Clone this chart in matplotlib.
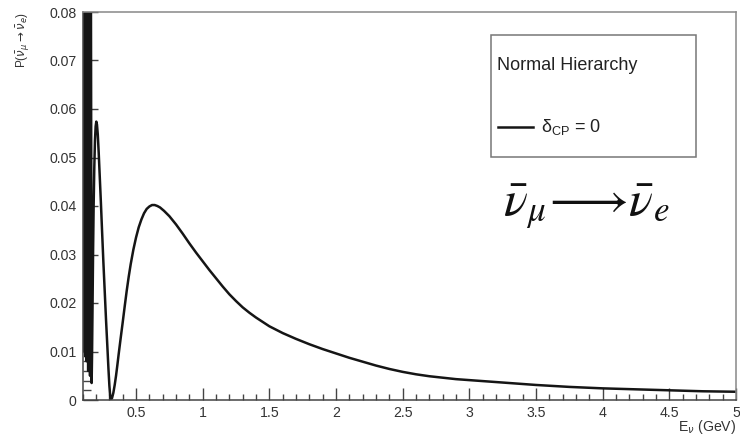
import matplotlib
matplotlib.use('Agg')
import matplotlib.pyplot as plt
from matplotlib.ticker import MultipleLocator, FuncFormatter
from matplotlib.patches import Rectangle
from matplotlib.lines import Line2D

plt.rcParams['font.family'] = ['Liberation Sans', 'DejaVu Sans']

# neutrino energy (GeV) and appearance probability
energy_gev = [0.100, 0.1035, 0.107, 0.111, 0.115, 0.119, 0.124, 0.129,
              0.135, 0.141, 0.148, 0.155, 0.161, 0.167,
              0.170, 0.174, 0.178, 0.182, 0.187, 0.192, 0.197, 0.202,
              0.207, 0.213, 0.220, 0.228, 0.236, 0.245, 0.255, 0.265,
              0.275, 0.285, 0.293, 0.300, 0.305, 0.31,
              0.32, 0.33, 0.34, 0.35, 0.36, 0.37, 0.385, 0.40, 0.415,
              0.43, 0.445, 0.46, 0.48, 0.50, 0.52, 0.54, 0.56, 0.58,
              0.60, 0.62, 0.64, 0.66, 0.68, 0.71, 0.75, 0.80, 0.85,
              0.90, 0.95, 1.00, 1.05, 1.10, 1.15, 1.20, 1.25, 1.30,
              1.35, 1.40, 1.45, 1.50, 1.55, 1.60, 1.70, 1.80, 1.90,
              2.00, 2.10, 2.20, 2.30, 2.40, 2.50, 2.60, 2.70, 2.80,
              2.90, 3.00, 3.25, 3.50, 3.75, 4.00, 4.25, 4.50, 4.75, 5.00]
prob = [0.110, 0.012, 0.110, 0.010, 0.110, 0.009, 0.110, 0.008,
        0.110, 0.006, 0.105, 0.005, 0.095, 0.0035,
        0.009, 0.020, 0.031, 0.040, 0.048, 0.0535, 0.0564, 0.0574,
        0.0568, 0.0548, 0.0510, 0.0460, 0.0410, 0.0350, 0.0285, 0.0225,
        0.0165, 0.0110, 0.0065, 0.0030, 0.0012, 0.0,
        0.0004, 0.0015, 0.0031, 0.0050, 0.0072, 0.0095, 0.0128, 0.0160, 0.0193,
        0.0225, 0.0254, 0.0280, 0.0310, 0.0335, 0.0356, 0.0372, 0.0385, 0.0394,
        0.0399, 0.0402, 0.0402, 0.0400, 0.0397, 0.0390, 0.0379, 0.0362, 0.0343,
        0.0323, 0.0304, 0.0286, 0.0268, 0.0251, 0.0234, 0.0218, 0.0204, 0.0191,
        0.0180, 0.0170, 0.0161, 0.0152, 0.0145, 0.0138, 0.0126, 0.0115, 0.0105,
        0.0096, 0.0087, 0.0079, 0.0071, 0.0064, 0.0058, 0.0053, 0.0049, 0.0046,
        0.0043, 0.0041, 0.0036, 0.0031, 0.0027, 0.0024, 0.0022, 0.0020, 0.0018, 0.0017]

W, H = 740, 438
fig = plt.figure(figsize=(W / 100, H / 100), dpi=100)
ax = fig.add_axes([82.7 / W, 1 - 400 / H, (736 - 82.7) / W, (400 - 12) / H])

ax.plot(energy_gev, prob, color='#151515', lw=1.8, solid_joinstyle='round')
ax.set_xlim(0.1, 5.0)
ax.set_ylim(0.0, 0.08)

ax.xaxis.set_major_locator(MultipleLocator(0.5))
ax.xaxis.set_minor_locator(MultipleLocator(0.1))
ax.yaxis.set_major_locator(MultipleLocator(0.01))
ax.yaxis.set_minor_locator(MultipleLocator(0.002))
ax.xaxis.set_major_formatter(FuncFormatter(lambda v, p: '%g' % round(v, 3)))
ax.yaxis.set_major_formatter(FuncFormatter(lambda v, p: '%g' % round(v, 3)))

ax.tick_params(which='both', direction='in', top=False, right=False,
               color='#444444', width=1.0, labelsize=10.2, labelcolor='#333333')
ax.tick_params(axis='x', which='major', length=9, pad=4.5)
ax.tick_params(axis='x', which='minor', length=4.5)
ax.tick_params(axis='y', which='major', length=11, pad=4.5)
ax.tick_params(axis='y', which='minor', length=5.5)
for side in ['left', 'bottom']:
    ax.spines[side].set_color('#444444')
    ax.spines[side].set_linewidth(1.1)
for side in ['top', 'right']:
    ax.spines[side].set_color('#888888')
    ax.spines[side].set_linewidth(1.1)

fig.text(736 / W, 1 - 431 / H, r'E$_{\nu}$ (GeV)', ha='right', va='baseline',
         fontsize=10.2, color='#333333')
fig.text(23 / W, 1 - 12 / H, r'P($\bar{\nu}_{\mu}\rightarrow\bar{\nu}_{e}$)',
         rotation=90, ha='center', va='top', fontsize=8.5, color='#333333')

# legend box
fig.add_artist(Rectangle((491 / W, 1 - 157 / H), (696 - 491) / W, (157 - 35) / H,
                         transform=fig.transFigure, fill=False,
                         edgecolor='#777777', lw=1.1))
fig.text(497 / W, 1 - 66 / H, 'Normal Hierarchy', ha='left', va='center',
         fontsize=13, color='#222222')
fig.add_artist(Line2D([498 / W, 533 / W], [1 - 127 / H, 1 - 127 / H],
                      transform=fig.transFigure, color='#151515', lw=1.8))
fig.text(541 / W, 1 - 127 / H, r'$\mathregular{\delta_{CP}}$ = 0', ha='left',
         va='center', fontsize=13, color='#222222')

fig.text(503 / W, 1 - 215 / H, r'$\bar{\nu}_{\mu}\!\longrightarrow\!\bar{\nu}_{e}$',
         ha='left', va='baseline', fontsize=36, math_fontfamily='stix',
         color='#111111')

fig.savefig('out.png', dpi=100)
